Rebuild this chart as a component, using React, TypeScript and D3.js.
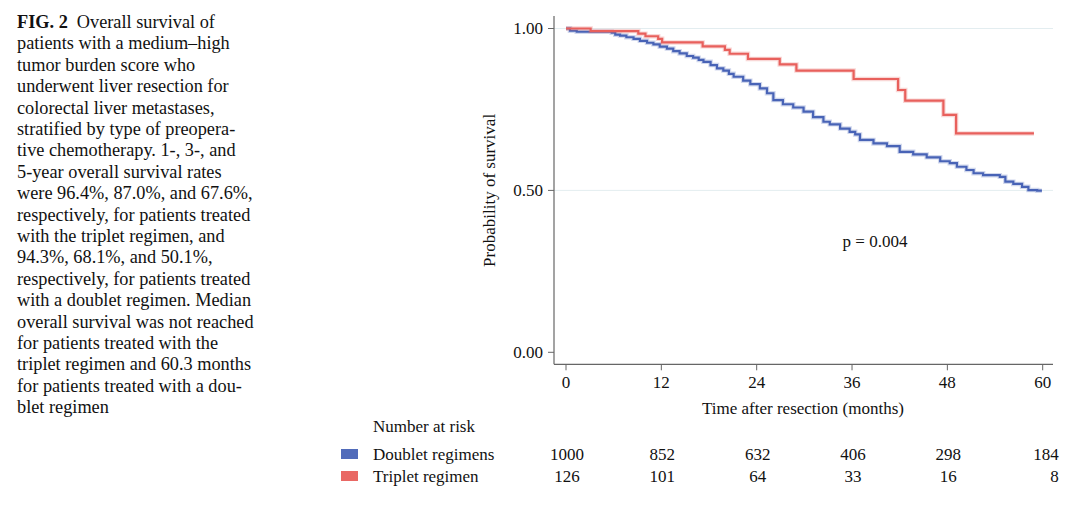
import React, { useEffect } from 'react';
import * as d3 from 'd3';

// Kaplan-Meier steps: [months, survival]
const doubletCurve: [number, number][] = [
  [0, 1.0], [0.5, 0.993], [1.35, 0.99], [5.75, 0.987], [6.2, 0.981], [6.8, 0.978],
  [7.6, 0.973], [8.5, 0.968], [9.3, 0.962], [10.2, 0.956], [11.0, 0.951], [11.8, 0.944],
  [12.7, 0.938], [13.5, 0.93], [14.3, 0.923], [15.2, 0.915], [16.0, 0.91], [16.7, 0.903],
  [17.3, 0.897], [18.2, 0.887], [19.0, 0.877], [19.8, 0.87], [20.5, 0.86], [21.1, 0.851],
  [22.3, 0.839], [23.2, 0.828], [24.4, 0.815], [25.3, 0.8], [26.1, 0.779], [27.3, 0.766],
  [28.6, 0.756], [29.9, 0.743], [31.1, 0.726], [32.4, 0.712], [33.2, 0.704], [34.5, 0.691],
  [35.7, 0.681], [36.4, 0.673], [37.0, 0.656], [38.7, 0.645], [40.4, 0.637], [42.0, 0.619],
  [43.7, 0.611], [45.4, 0.602], [47.1, 0.59], [48.3, 0.584], [49.2, 0.573], [50.4, 0.563],
  [51.3, 0.553], [52.5, 0.547], [54.6, 0.542], [55.3, 0.527], [56.3, 0.52], [57.4, 0.511],
  [58.2, 0.501], [59.3, 0.499], [59.9, 0.499],
];

const tripletCurve: [number, number][] = [
  [0, 1.0], [3.1, 0.992], [9.1, 0.984], [10.0, 0.976], [11.6, 0.968], [12.1, 0.957],
  [17.2, 0.945], [20.0, 0.934], [20.6, 0.922], [22.9, 0.906], [26.9, 0.889], [29.0, 0.87],
  [36.2, 0.844], [41.8, 0.81], [42.7, 0.777], [47.5, 0.733], [49.1, 0.676], [58.9, 0.676],
];

const xTicks = [0, 12, 24, 36, 48, 60];
const yTicks = [0, 0.5, 1];
const yGrid = [0.5, 1];

const groupNames = ['Doublet regimens', 'Triplet regimen'];
const doubletAtRisk = [1000, 852, 632, 406, 298, 184];
const tripletAtRisk = [126, 101, 64, 33, 16, 8];

const captionLines = [
  'Overall survival of',
  'patients with a medium\u2013high',
  'tumor burden score who',
  'underwent liver resection for',
  'colorectal liver metastases,',
  'stratified by type of preopera-',
  'tive chemotherapy. 1-, 3-, and',
  '5-year overall survival rates',
  'were 96.4%, 87.0%, and 67.6%,',
  'respectively, for patients treated',
  'with the triplet regimen, and',
  '94.3%, 68.1%, and 50.1%,',
  'respectively, for patients treated',
  'with a doublet regimen. Median',
  'overall survival was not reached',
  'for patients treated with the',
  'triplet regimen and 60.3 months',
  'for patients treated with a dou-',
  'blet regimen',
];

const BLUE = '#4863b6';
const RED = '#e8605c';
const FONT = "'Liberation Serif', 'Times New Roman', serif";

export default function App() {
  useEffect(() => {
    document.body.style.margin = '0';
  }, []);

  const W = 1080;
  const H = 513;
  const x = d3.scaleLinear().domain([0, 60]).range([566, 1042.7]);
  const y = d3.scaleLinear().domain([0, 1]).range([352.3, 28.5]);

  const axisLeft = 554;
  const axisBottom = 364.3;
  const axisRight = 1053;
  const axisTop = 16;

  const line = d3
    .line<[number, number]>()
    .x((d) => x(d[0]))
    .y((d) => y(d[1]))
    .curve(d3.curveStepAfter);

  const fmt = d3.format('.2f');
  const riskRows = [doubletAtRisk, tripletAtRisk];
  const colors = [BLUE, RED];

  return (
    <svg width={W} height={H} style={{ display: 'block', background: '#fff' }} fontFamily={FONT}>
      {/* caption */}
      <text x={17} y={28} fontSize={18.3} fill="#111">
        <tspan fontWeight="bold">FIG. 2</tspan>
        <tspan dx={9}>{captionLines[0]}</tspan>
        {captionLines.slice(1).map((l, i) => (
          <tspan key={i} x={17} dy={21.4}>
            {l}
          </tspan>
        ))}
      </text>

      {/* grid */}
      {yGrid.map((v) => (
        <line key={v} x1={axisLeft} x2={axisRight} y1={y(v)} y2={y(v)} stroke="#e3edf0" strokeWidth={1} />
      ))}

      {/* curves */}
      <path d={line(doubletCurve) || ''} fill="none" stroke={BLUE} strokeOpacity={0.25} strokeWidth={4.5} />
      <path d={line(doubletCurve) || ''} fill="none" stroke={BLUE} strokeWidth={2.2} />
      <path d={line(tripletCurve) || ''} fill="none" stroke={RED} strokeOpacity={0.25} strokeWidth={4.5} />
      <path d={line(tripletCurve) || ''} fill="none" stroke={RED} strokeWidth={2.2} />

      {/* axes */}
      <line x1={axisLeft} x2={axisLeft} y1={axisTop} y2={axisBottom} stroke="#666" strokeWidth={1.2} />
      <line x1={axisLeft} x2={axisRight} y1={axisBottom} y2={axisBottom} stroke="#666" strokeWidth={1.2} />
      {yTicks.map((v) => (
        <g key={v}>
          <line x1={axisLeft - 6} x2={axisLeft} y1={y(v)} y2={y(v)} stroke="#666" />
          <text x={axisLeft - 11} y={y(v)} dy="0.35em" textAnchor="end" fontSize={17} fill="#111">
            {fmt(v)}
          </text>
        </g>
      ))}
      {xTicks.map((v) => (
        <g key={v}>
          <line x1={x(v)} x2={x(v)} y1={axisBottom} y2={axisBottom + 6} stroke="#666" />
          <text x={x(v)} y={388} textAnchor="middle" fontSize={17} fill="#111">
            {v}
          </text>
        </g>
      ))}
      <text x={803} y={414} textAnchor="middle" fontSize={17} fill="#111">
        Time after resection (months)
      </text>
      <text
        transform={`translate(495,${y(0.5)}) rotate(-90)`}
        textAnchor="middle"
        fontSize={17}
        fill="#111"
      >
        Probability of survival
      </text>
      <text x={875} y={247} textAnchor="middle" fontSize={17} fill="#111">
        p = 0.004
      </text>

      {/* number at risk */}
      <text x={373} y={432} fontSize={17} fill="#111">
        Number at risk
      </text>
      {groupNames.map((name, r) => {
        const cy = 454 + r * 22;
        return (
          <g key={name}>
            <rect x={341} y={cy - 5} width={17} height={10} fill={colors[r]} opacity={0.95} />
            <text x={373} y={cy} dy="0.35em" fontSize={17} fill="#111">
              {name}
            </text>
            {riskRows[r].map((n, i) => {
              const last = i === xTicks.length - 1;
              return (
                <text
                  key={i}
                  x={last ? x(xTicks[i]) + 16 : x(xTicks[i]) + 1}
                  y={cy}
                  dy="0.35em"
                  textAnchor={last ? 'end' : 'middle'}
                  fontSize={17}
                  fill="#111"
                >
                  {n}
                </text>
              );
            })}
          </g>
        );
      })}
    </svg>
  );
}
